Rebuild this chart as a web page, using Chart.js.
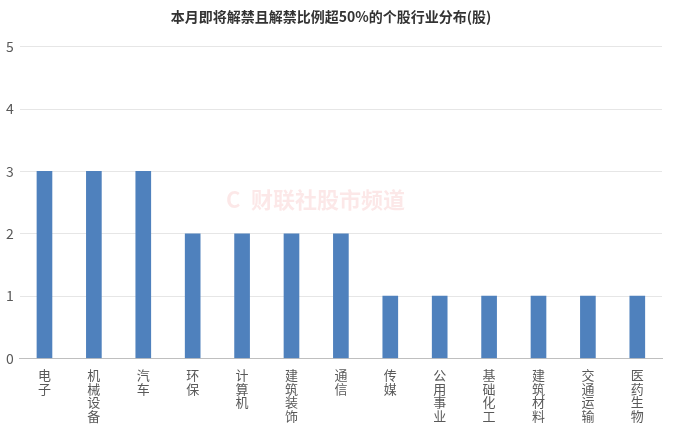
<!DOCTYPE html>
<html>
<head>
<meta charset="utf-8">
<script src="https://cdn.jsdelivr.net/npm/chart.js@4"></script>
<style>
  body { margin: 0; background: #fff; }
  #wrap { width: 692px; height: 427px; }
</style>
</head>
<body>
<div id="wrap"><canvas id="chart"></canvas></div>
<script>
const categories = ['电子', '机械设备', '汽车', '环保', '计算机', '建筑装饰', '通信', '传媒', '公用事业', '基础化工', '建筑材料', '交通运输', '医药生物'];
const counts = [3, 3, 3, 2, 2, 2, 2, 1, 1, 1, 1, 1, 1];
const chartTitle = '本月即将解禁且解禁比例超50%的个股行业分布(股)';

// faint watermark in the middle of the plot
const watermark = {
    id: 'watermark',
    beforeDatasetsDraw(chart) {
        const { ctx, chartArea } = chart;
        const cx = (chartArea.left + chartArea.right) / 2;
        const cy = chartArea.top + (chartArea.bottom - chartArea.top) * 0.49;
        ctx.save();
        ctx.fillStyle = 'rgba(230, 80, 80, 0.13)';
        ctx.font = 'bold 22px "Noto Sans CJK SC"';
        ctx.textBaseline = 'middle';
        ctx.fillText('C', cx - 115, cy);
        ctx.fillText('财联社股市频道', cx - 90, cy);
        ctx.restore();
    }
};

new Chart(document.getElementById('chart'), {
    type: 'bar',
    data: {
        labels: categories.map(c => c.split('')),
        datasets: [{
            data: counts,
            backgroundColor: '#4f81bd',
            barThickness: 15
        }]
    },
    options: {
        responsive: true,
        maintainAspectRatio: false,
        animation: false,
        layout: { padding: { left: 0, right: 30, top: 4, bottom: 2 } },
        plugins: {
            legend: { display: false },
            tooltip: { enabled: false },
            title: {
                display: true,
                text: chartTitle,
                color: '#333',
                font: { family: '"Noto Sans CJK SC"', size: 14, weight: 'bold' },
                padding: { top: 4, bottom: 22 }
            }
        },
        scales: {
            x: {
                grid: { display: false },
                border: { color: '#bfbfbf' },
                ticks: {
                    color: '#595959',
                    maxRotation: 0,
                    autoSkip: false,
                    padding: 2,
                    font: { family: '"Noto Sans CJK SC"', size: 13, lineHeight: 1.05 }
                }
            },
            y: {
                min: 0,
                max: 5,
                ticks: {
                    stepSize: 1,
                    color: '#595959',
                    padding: 6,
                    font: { family: '"Noto Sans CJK SC"', size: 14 }
                },
                grid: { color: '#e6e6e6', drawTicks: false },
                border: { display: false }
            }
        }
    },
    plugins: [watermark]
});
</script>
</body>
</html>
